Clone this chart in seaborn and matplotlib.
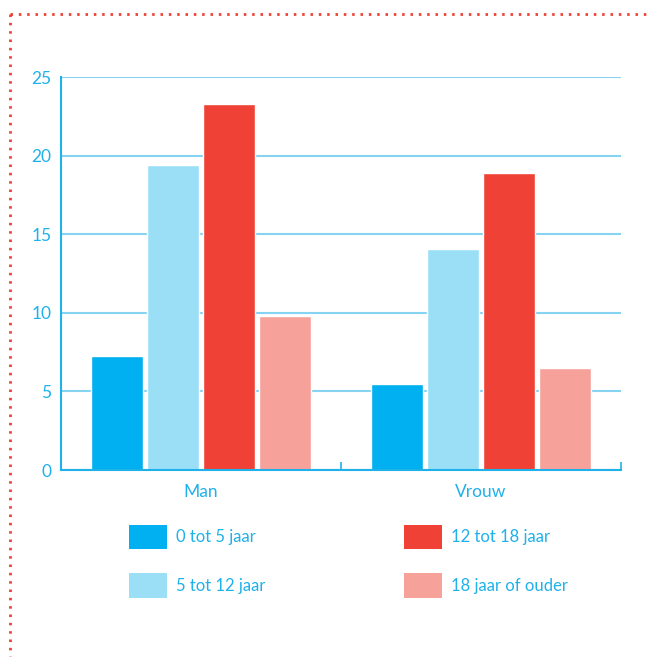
import pandas as pd
import matplotlib.pyplot as plt
import seaborn as sns
from matplotlib.lines import Line2D
from matplotlib.patches import Patch

# Data
geslacht = ["Man", "Vrouw"]
leeftijd = ["0 tot 5 jaar", "5 tot 12 jaar", "12 tot 18 jaar", "18 jaar of ouder"]
man = [7.25, 19.4, 23.3, 9.8]
vrouw = [5.45, 14.05, 18.9, 6.5]
kleuren = ["#00b0f0", "#9bdff7", "#ef4135", "#f6a19a"]

df = pd.DataFrame({
    "geslacht": ["Man"] * 4 + ["Vrouw"] * 4,
    "leeftijd": leeftijd * 2,
    "waarde": man + vrouw,
})

blauw = "#1fb1ea"
grid_blauw = "#86d4f2"

sns.set_style("white")
plt.rcParams["font.family"] = ["Lato", "DejaVu Sans"]

fig = plt.figure(figsize=(6.51, 6.64), dpi=100)
ax = fig.add_axes([0.0937, 0.292, 0.8603, 0.592])

sns.barplot(data=df, x="geslacht", y="waarde", hue="leeftijd",
            order=geslacht, hue_order=leeftijd, palette=kleuren,
            width=0.8, gap=0.08, saturation=1, legend=False, ax=ax, zorder=3)

ax.set_xlim(-0.5, 1.5)
ax.set_ylim(0, 25)
ax.set_yticks([0, 5, 10, 15, 20, 25])
ax.set_xlabel("")
ax.set_ylabel("")

# gridlijnen
ax.grid(axis="y", color=grid_blauw, linewidth=1.5, zorder=0)
ax.grid(axis="x", visible=False)

for s in ["top", "right"]:
    ax.spines[s].set_visible(False)
ax.spines["left"].set_color(blauw)
ax.spines["left"].set_linewidth(1.5)
ax.spines["bottom"].set_color(blauw)
ax.spines["bottom"].set_linewidth(1.5)
ax.spines["bottom"].set_zorder(4)

ax.tick_params(axis="y", length=0, pad=7, labelsize=12.5, labelcolor=blauw)
ax.tick_params(axis="x", length=0, pad=10, labelsize=12.5, labelcolor=blauw)
ax.set_xticks([0.5, 1.5], minor=True)
ax.tick_params(axis="x", which="minor", bottom=True, direction="in", length=6,
               width=1.2, color=blauw)

# legenda
handles = [Patch(facecolor=c, edgecolor="none") for c in kleuren]
fig.legend(handles, leeftijd, loc="upper left", bbox_to_anchor=(0.198, 0.21),
           ncol=2, frameon=False, fontsize=12, labelcolor=blauw,
           handlelength=2.3, handleheight=1.9, handletextpad=0.5,
           labelspacing=1.45, columnspacing=8.34, borderaxespad=0, borderpad=0)

# gestippelde rand
stip = dict(color="#ef4135", linewidth=2, linestyle=(0, (0.9, 2.1)),
            solid_capstyle="butt", dash_capstyle="butt")
fig.add_artist(Line2D([10 / 651, 1], [1 - 14 / 664, 1 - 14 / 664], **stip))
fig.add_artist(Line2D([10 / 651, 10 / 651], [1 - 14 / 664, 8 / 664], **stip))

fig.savefig("out.png", dpi=100)
